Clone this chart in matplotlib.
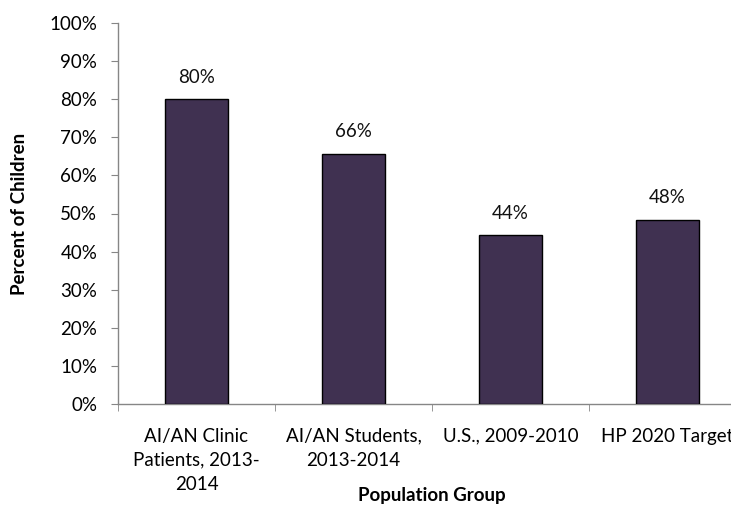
import matplotlib
matplotlib.use('Agg')
import matplotlib.pyplot as plt
import numpy as np

groups = ['AI/AN Clinic\nPatients, 2013-\n2014', 'AI/AN Students,\n2013-2014',
          'U.S., 2009-2010', 'HP 2020 Target']
percents = [80.0, 65.7, 44.3, 48.3]
labels = ['80%', '66%', '44%', '48%']
yticks = list(range(0, 101, 10))

plt.rcParams['font.family'] = ['Lato', 'DejaVu Sans']
fs = 13.5

fig = plt.figure(figsize=(7.31, 5.29), dpi=100)
# axes runs past the right edge of the figure, as in the original
ax = fig.add_axes([118 / 731, 1 - 404 / 529, 628 / 731, 381 / 529])

x = np.arange(len(groups))
ax.bar(x, percents, width=0.4, color='#403151', edgecolor='black', linewidth=1.0, zorder=3)

for xi, v, lab in zip(x, percents, labels):
    ax.annotate(lab, (xi, v), xytext=(0, 12), textcoords='offset points',
                ha='center', va='baseline', fontsize=fs, color='#111111')

ax.set_xlim(-0.5, len(groups) - 0.5)
ax.set_ylim(0, 100)
ax.set_yticks(yticks)
ax.set_yticklabels(['%d%%' % t for t in yticks], fontsize=fs)

ax.set_xticks(x)
ax.set_xticklabels(groups, fontsize=fs, linespacing=1.5)
ax.set_xticks(np.arange(-0.5, len(groups), 1), minor=True)
ax.tick_params(axis='x', which='major', length=0, pad=17)
ax.tick_params(axis='x', which='minor', length=5, color='#868686', direction='out')
ax.tick_params(axis='y', length=5, color='#868686', direction='out', pad=10)

for s in ['top', 'right']:
    ax.spines[s].set_visible(False)
for s in ['left', 'bottom']:
    ax.spines[s].set_color('#868686')
    ax.spines[s].set_linewidth(1.0)

ax.set_ylabel('Percent of Children', fontsize=fs, fontweight='bold', labelpad=15)
fig.text(432 / 731, 1 - 495 / 529, 'Population Group', ha='center', va='center',
         fontsize=fs, fontweight='bold')

plt.savefig('out.png', dpi=100)
plt.close()
